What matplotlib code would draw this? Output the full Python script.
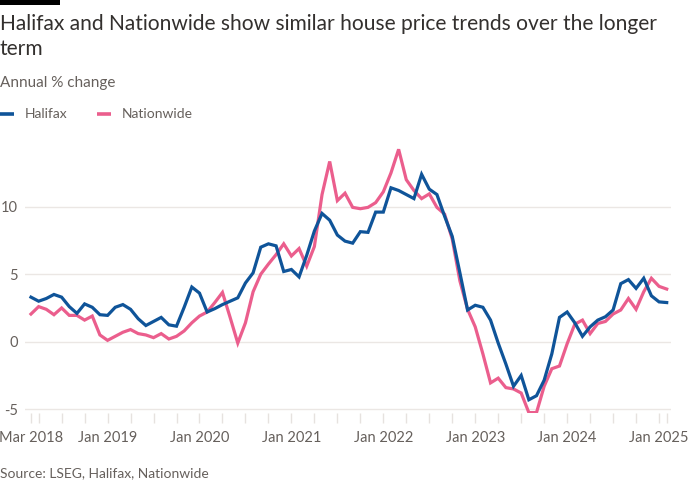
import matplotlib
matplotlib.use("Agg")
import matplotlib.pyplot as plt
from matplotlib.patches import Rectangle
from matplotlib.lines import Line2D

# ---- data (monthly, Mar 2018 .. Feb 2025) ----
start_label = "Mar 2018"
halifax = [
    3.3, 3.0, 3.2, 3.5, 3.3, 2.6, 2.1, 2.8, 2.55, 2.0,                 # 2018 Mar-Dec
    1.95, 2.55, 2.75, 2.4, 1.7, 1.2, 1.5, 1.8, 1.25, 1.15, 2.55, 4.05,  # 2019
    3.6, 2.2, 2.45, 2.75, 3.0, 3.25, 4.35, 5.1, 7.0, 7.25, 7.1, 5.2,    # 2020
    5.35, 4.8, 6.4, 8.2, 9.5, 9.0, 7.9, 7.45, 7.3, 8.15, 8.1, 9.6,      # 2021
    9.6, 11.4, 11.2, 10.9, 10.6, 12.4, 11.3, 10.9, 9.3, 7.8, 5.1, 2.35, # 2022
    2.7, 2.55, 1.6, -0.1, -1.65, -3.3, -2.5, -4.3, -4.0, -2.85, -0.9, 1.8,  # 2023
    2.2, 1.4, 0.4, 1.1, 1.6, 1.85, 2.35, 4.3, 4.6, 3.95, 4.7, 3.4,      # 2024
    2.95, 2.9,                                                          # 2025
]
nationwide = [
    2.05, 2.6, 2.4, 2.0, 2.5, 1.95, 1.95, 1.6, 1.9, 0.5,                # 2018 Mar-Dec
    0.1, 0.4, 0.7, 0.9, 0.6, 0.5, 0.3, 0.6, 0.2, 0.4, 0.8, 1.4,         # 2019
    1.9, 2.2, 2.9, 3.65, 1.8, -0.1, 1.4, 3.7, 5.0, 5.75, 6.45, 7.25,    # 2020
    6.35, 6.9, 5.6, 7.05, 10.9, 13.35, 10.45, 11.0, 9.95, 9.85, 9.95, 10.3,  # 2021
    11.1, 12.5, 14.25, 12.0, 11.2, 10.6, 10.95, 9.95, 9.45, 7.6, 4.5, 2.4,   # 2022
    1.1, -0.9, -3.05, -2.7, -3.4, -3.5, -3.8, -5.25, -5.25, -3.3, -2.0, -1.8, # 2023
    -0.15, 1.3, 1.6, 0.6, 1.35, 1.5, 2.05, 2.35, 3.2, 2.4, 3.7, 4.7,    # 2024
    4.1, 3.9,                                                           # 2025
]
series_names = ["Halifax", "Nationwide"]
y_ticks = [-5, 0, 5, 10]
jan_years = [2019, 2020, 2021, 2022, 2023, 2024, 2025]

title = "Halifax and Nationwide show similar house price trends over the longer\nterm"
subtitle = "Annual % change"
source = "Source: LSEG, Halifax, Nationwide"

# ---- style ----
BLUE = "#0f5499"
PINK = "#eb5e8d"
TEXT = "#66605c"
DARK = "#33302e"
GRID = "#ebe7e4"
FONT = "Lato"

plt.rcParams["font.family"] = [FONT, "DejaVu Sans"]

fig = plt.figure(figsize=(7, 5), dpi=100)
fig.patch.set_facecolor("white")

# FT-style black bar
fig.add_artist(Rectangle((0, 1 - 5 / 500), 60 / 700, 5 / 500, transform=fig.transFigure,
                         color="black", lw=0))

fig.text(0.0, 1 - 14 / 500, title, ha="left", va="top", fontsize=15.1, color=DARK,
         linespacing=1.3)
fig.text(0.0, 1 - 83 / 500, subtitle, ha="left", va="center", fontsize=11, color=TEXT)

# legend
ly = 1 - 114 / 500
for x0, name, col in [(0, series_names[0], BLUE), (97, series_names[1], PINK)]:
    fig.add_artist(Line2D([x0 / 700, (x0 + 14) / 700], [ly, ly], transform=fig.transFigure,
                          color=col, lw=2.6, solid_capstyle="butt"))
    fig.text((x0 + 25) / 700, ly, name, ha="left", va="center", fontsize=10, color=TEXT)

fig.text(0.0, 1 - 473 / 500, source, ha="left", va="center", fontsize=10, color=TEXT)

ax = fig.add_axes([25 / 700, 87 / 500, 646 / 700, 273 / 500])
n = len(halifax)
idx = list(range(n))
ax.plot(idx, nationwide, color=PINK, lw=2.3, solid_joinstyle="miter", zorder=3)
ax.plot(idx, halifax, color=BLUE, lw=2.3, solid_joinstyle="miter", zorder=4)

ax.set_xlim(-0.78, 83.56)
ax.set_ylim(-5.28, 14.94)

# ticks: first point, quarterly from Apr 2018, last point
tick_pos = [0] + list(range(1, n, 3)) + [n - 1]
tick_pos = sorted(set(tick_pos))
labels = []
for p in tick_pos:
    if p == 0:
        labels.append(start_label)
    elif (p - 10) % 12 == 0 and p >= 10:
        labels.append(f"Jan {jan_years[(p - 10) // 12]}")
    else:
        labels.append("")
ax.set_xticks(tick_pos)
ax.set_xticklabels(labels)
ax.tick_params(axis="x", length=7, width=1, color="#e6e2df", labelsize=10.5,
               labelcolor=TEXT, pad=6)

ax.set_yticks(y_ticks)
ax.set_yticklabels([str(v) for v in y_ticks])
ax.tick_params(axis="y", length=0, labelsize=10.5, labelcolor=TEXT, pad=5)
ax.grid(axis="y", color=GRID, lw=1)
ax.set_axisbelow(True)
for s in ax.spines.values():
    s.set_visible(False)

fig.savefig("out.png", dpi=100, facecolor="white")
